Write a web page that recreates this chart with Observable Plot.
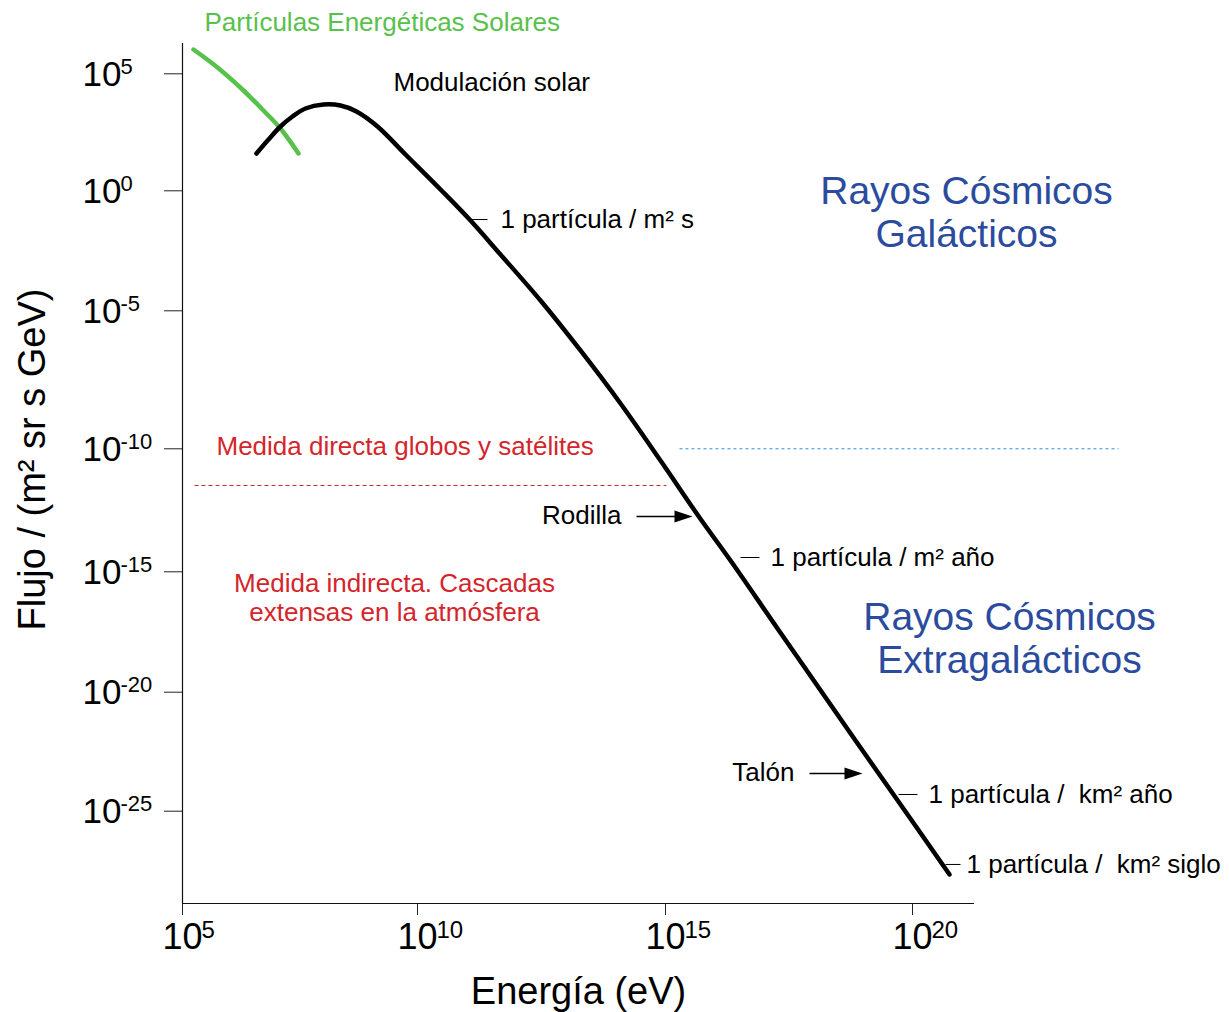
<!DOCTYPE html>
<html>
<head>
<meta charset="utf-8">
<script src="https://cdn.jsdelivr.net/npm/d3@7"></script>
<script src="https://cdn.jsdelivr.net/npm/@observablehq/plot@0.6"></script>
<style>
  body { margin: 0; background: #fff; }
  svg { font-family: "Liberation Sans", Arial, Helvetica, sans-serif; }
</style>
</head>
<body>
<div id="chart"></div>
<script>
// Cosmic-ray spectrum: log10 of energy (eV) and log10 of flux (m^-2 sr^-1 s^-1 GeV^-1)
const crLogE = [6.574, 6.830, 7.085, 7.340, 7.617, 8.000, 8.362, 8.702, 9.149, 9.745,
                10.464, 11.069, 11.673, 12.480, 13.286, 14.093, 14.899, 15.688, 16.316,
                17.267, 18.057, 18.846, 19.615, 20.749];
const crLogF = [1.594, 2.192, 2.748, 3.175, 3.517, 3.688, 3.645, 3.389, 2.748, 1.551,
                0.056, -1.238, -2.654, -4.571, -6.438, -8.359, -10.476, -12.793, -14.541,
                -17.355, -19.680, -22.029, -24.298, -27.660];

// Solar energetic particles
const sepLogE = [5.234, 5.745, 6.298, 6.723, 7.085, 7.468];
const sepLogF = [6.038, 5.269, 4.286, 3.432, 2.662, 1.594];

// Axis tick exponents (powers of ten)
const xExponents = [5, 10, 15, 20];
const yExponents = [5, 0, -5, -10, -15, -20, -25];

const GREEN = "#58c14b";
const RED = "#d4252b";
const NAVY = "#2b4c9e";
const SKY = "#2e90da";

const cosmic = crLogE.map((e, i) => ({E: 10 ** e, F: 10 ** crLogF[i]}));
const solar = sepLogE.map((e, i) => ({E: 10 ** e, F: 10 ** sepLogF[i]}));

// place a single annotation at (log10 E, log10 F)
const at = (e, f) => ({x: () => 10 ** e, y: () => 10 ** f});
const note = (str, e, f, opts) => Plot.text([str], {...at(e, f), text: d => d, ...opts});
const dash = (e1, e2, f, opts = {}) =>
  Plot.link([0], {x1: () => 10 ** e1, x2: () => 10 ** e2, y1: () => 10 ** f, y2: () => 10 ** f,
                  stroke: "black", strokeWidth: 1, ...opts});

// filled triangular arrow head pointing right, tip at the origin
const headRight = {
  draw(ctx) {
    ctx.moveTo(0, 0);
    ctx.lineTo(-18, -6);
    ctx.lineTo(-18, 6);
    ctx.closePath();
  }
};
const arrow = (e1, e2, f) => [
  dash(e1, e2 - 0.2, f, {strokeWidth: 1.3}),
  Plot.dot([0], {...at(e2, f), symbol: headRight, fill: "black", stroke: "none"})
];

const chart = Plot.plot({
  width: 1229,
  height: 1012,
  marginLeft: 182,
  marginRight: 255,
  marginTop: 43,
  marginBottom: 109,
  style: {background: "#fff", overflow: "visible"},
  x: {
    type: "log",
    domain: [1e5, 1e10, 1e15, 1e20, 10 ** 21.255],
    range: [182, 417, 665, 912, 974]
  },
  y: {
    type: "log",
    domain: [10 ** 6.295, 1e5, 1, 1e-5, 1e-10, 1e-15, 1e-20, 1e-25, 10 ** -28.88],
    range: [43, 73.3, 190.3, 310.3, 448.3, 571.3, 691.7, 810.7, 903]
  },
  marks: [
    // axes: frame lines and ticks
    Plot.axisX({ticks: xExponents.map(d => 10 ** d), tickSize: 12, tickFormat: () => "", label: null, stroke: "#222"}),
    Plot.axisY({ticks: yExponents.map(d => 10 ** d), tickSize: 18, tickFormat: () => "", label: null, stroke: "#222"}),
    Plot.ruleX([1e5], {stroke: "#111", strokeWidth: 1.2}),
    Plot.ruleY([10 ** -28.88], {stroke: "#111", strokeWidth: 1.2}),

    // tick labels as 10 with a raised exponent
    Plot.text(yExponents, {y: d => 10 ** d, frameAnchor: "left", dx: -100, dy: 1, text: () => "10",
                           textAnchor: "start", lineAnchor: "middle", fontSize: 35, fill: "black"}),
    Plot.text(yExponents, {y: d => 10 ** d, frameAnchor: "left", dx: -62, dy: -7, text: d => String(d),
                           textAnchor: "start", lineAnchor: "middle", fontSize: 22, fill: "black"}),
    Plot.text(xExponents, {x: d => 10 ** d, frameAnchor: "bottom", dy: 34, text: () => "10",
                           textAnchor: "middle", lineAnchor: "middle", fontSize: 36, fill: "black"}),
    Plot.text(xExponents, {x: d => 10 ** d, frameAnchor: "bottom", dx: 19, dy: 27, text: d => String(d),
                           textAnchor: "start", lineAnchor: "middle", fontSize: 24, fill: "black"}),

    // axis titles
    Plot.text(["Energía (eV)"], {frameAnchor: "bottom", dy: 88, text: d => d, textAnchor: "middle",
                                 lineAnchor: "middle", fontSize: 38, fill: "black"}),
    Plot.text(["Flujo / (m² sr s GeV)"], {frameAnchor: "left", dx: -150, dy: -14, rotate: -90,
                                         text: d => d, textAnchor: "middle", lineAnchor: "middle",
                                         fontSize: 38, fill: "black"}),

    // measurement regimes
    dash(5.255, 15.020, -11.492, {stroke: RED, strokeDasharray: "4,3"}),
    dash(15.283, 24.170, -10.0, {stroke: SKY, strokeDasharray: "3,3"}),
    note("Medida directa globos y satélites", 5.723, -9.917, {textAnchor: "start", fill: RED, fontSize: 26}),
    note("Medida indirecta. Cascadas\nextensas en la atmósfera", 9.511, -16.047,
         {textAnchor: "middle", fill: RED, fontSize: 26, lineHeight: 1.12}),

    // spectra
    Plot.line(solar, {x: "E", y: "F", stroke: GREEN, strokeWidth: 4.5, curve: "catmull-rom"}),
    Plot.line(cosmic, {x: "E", y: "F", stroke: "black", strokeWidth: 4.5, curve: "catmull-rom"}),

    // labels
    note("Partículas Energéticas Solares", 5.468, 7.192, {textAnchor: "start", fill: GREEN, fontSize: 26}),
    note("Modulación solar", 9.489, 4.628, {textAnchor: "start", fill: "black", fontSize: 26}),
    note("Rayos Cósmicos\nGalácticos", 21.093, -0.883,
         {textAnchor: "middle", fill: NAVY, fontSize: 39, lineHeight: 1.1}),
    note("Rayos Cósmicos\nExtragalácticos", 21.964, -17.728,
         {textAnchor: "middle", fill: NAVY, fontSize: 39, lineHeight: 1.1}),

    // integral flux markers
    dash(11.028, 11.411, -1.196),
    note("1 partícula / m² s", 11.673, -1.196, {textAnchor: "start", fill: "black", fontSize: 26}),
    dash(16.518, 16.903, -14.419),
    note("1 partícula / m² año", 17.126, -14.419, {textAnchor: "start", fill: "black", fontSize: 26}),
    dash(19.717, 20.101, -24.298),
    note("1 partícula /\u00a0 km² año", 20.324, -24.298, {textAnchor: "start", fill: "black", fontSize: 26}),
    dash(20.668, 20.972, -27.239),
    note("1 partícula /\u00a0 km² siglo", 21.093, -27.239, {textAnchor: "start", fill: "black", fontSize: 26}),

    // spectral features
    note("Rodilla", 14.113, -12.711, {textAnchor: "end", fill: "black", fontSize: 26}),
    ...arrow(14.415, 15.547, -12.752),
    note("Talón", 17.611, -23.374, {textAnchor: "end", fill: "black", fontSize: 26}),
    ...arrow(17.915, 18.988, -23.416)
  ]
});

document.getElementById("chart").appendChild(chart);
</script>
</body>
</html>
